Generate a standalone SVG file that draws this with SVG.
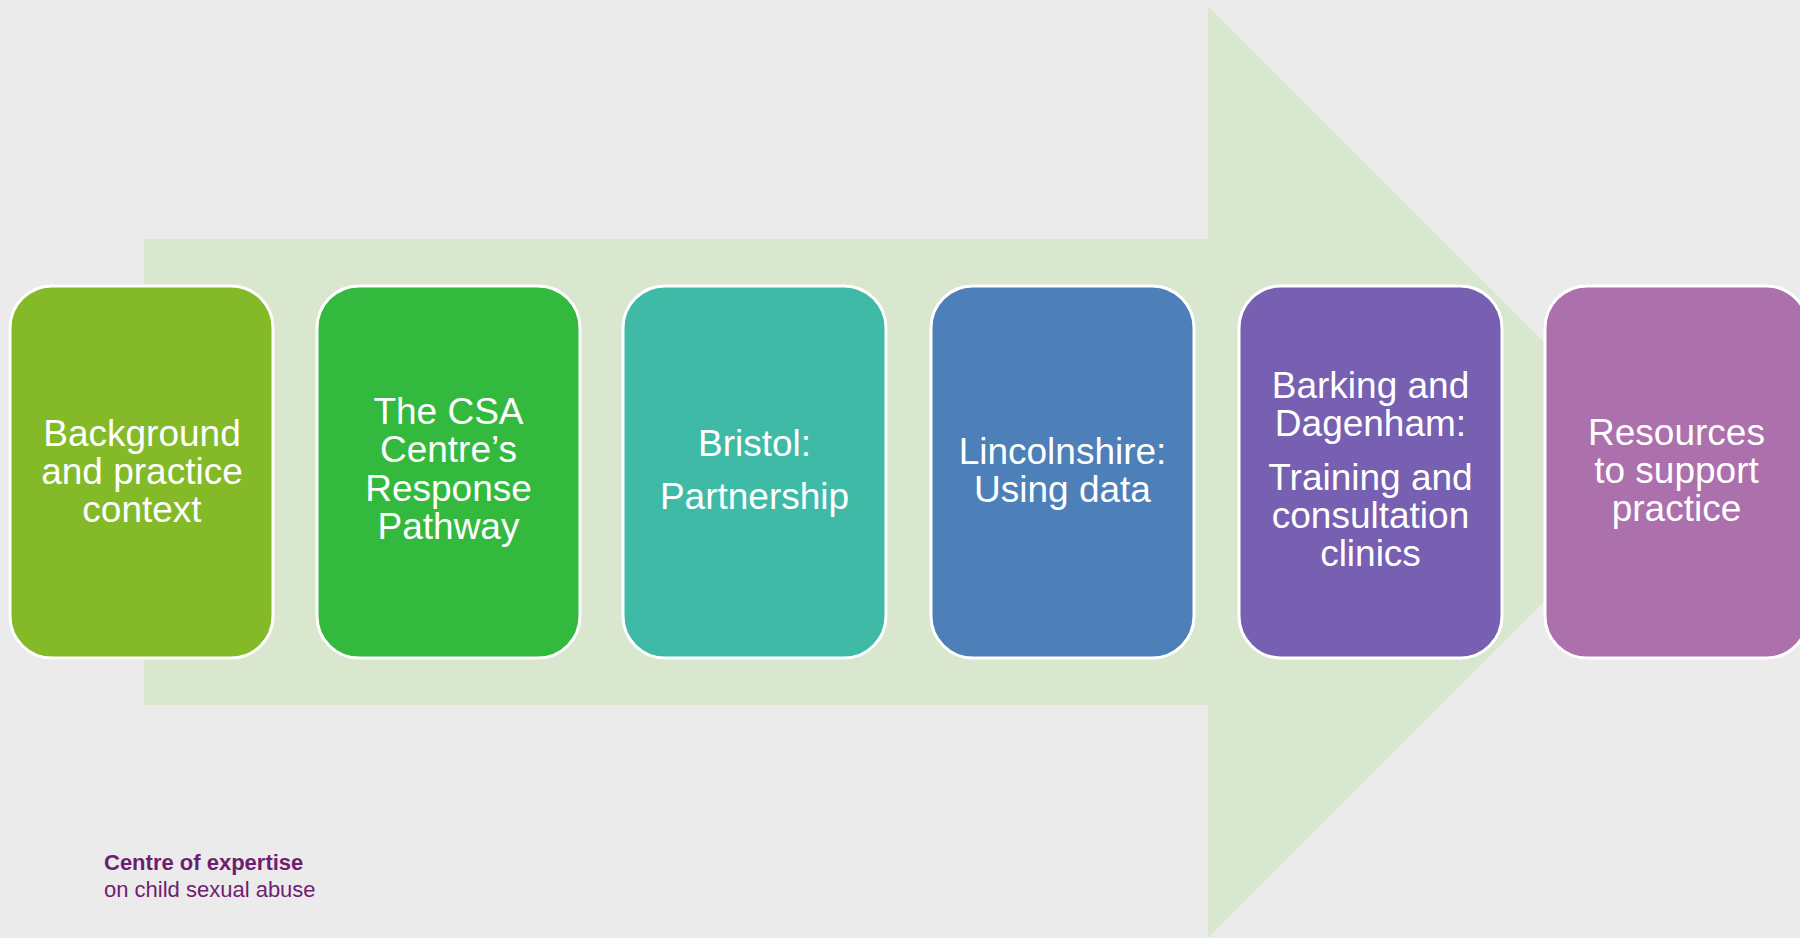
<svg xmlns="http://www.w3.org/2000/svg" width="1800" height="938" viewBox="0 0 1800 938">
<style>
.box{stroke:#ffffff;stroke-width:3}
.t{font-family:"Liberation Sans",Arial,sans-serif;font-size:37px;fill:#ffffff;text-anchor:middle}
.f{font-family:"Liberation Sans",Arial,sans-serif;font-size:22px;fill:#6f1d72}
</style>
<rect x="0" y="0" width="1800" height="938" fill="#ebebeb"/>
<polygon id="arrow" points="144,239 1208,239 1208,6 1674,472 1208,938 1208,705 144,705" fill="#dae7cf"/>
<g id="node1"><rect class="box" x="10" y="286" width="263" height="372" rx="42" fill="#84b928"/>
<text class="t"><tspan x="142" y="446">Background</tspan><tspan x="142" y="484">and practice</tspan><tspan x="142" y="522">context</tspan></text></g>
<g id="node2"><rect class="box" x="317" y="286" width="263" height="372" rx="42" fill="#34b93f"/>
<text class="t"><tspan x="448.5" y="424">The CSA</tspan><tspan x="448.5" y="462">Centre’s</tspan><tspan x="448.5" y="501">Response</tspan><tspan x="448.5" y="539">Pathway</tspan></text></g>
<g id="node3"><rect class="box" x="623" y="286" width="263" height="372" rx="42" fill="#3fbaa6"/>
<text class="t"><tspan x="754.5" y="456">Bristol:</tspan><tspan x="754.5" y="509">Partnership</tspan></text></g>
<g id="node4"><rect class="box" x="931" y="286" width="263" height="372" rx="42" fill="#4d7fb8"/>
<text class="t"><tspan x="1062.5" y="464">Lincolnshire:</tspan><tspan x="1062.5" y="502">Using data</tspan></text></g>
<g id="node5"><rect class="box" x="1239" y="286" width="263" height="372" rx="42" fill="#775fb1"/>
<text class="t"><tspan x="1370.5" y="398">Barking and</tspan><tspan x="1370.5" y="436">Dagenham:</tspan><tspan x="1370.5" y="490">Training and</tspan><tspan x="1370.5" y="528">consultation</tspan><tspan x="1370.5" y="566">clinics</tspan></text></g>
<g id="node6"><rect class="box" x="1545" y="286" width="263" height="372" rx="42" fill="#ac70ac"/>
<text class="t"><tspan x="1676.5" y="445">Resources</tspan><tspan x="1676.5" y="483">to support</tspan><tspan x="1676.5" y="521">practice</tspan></text></g>
<g id="connectors"></g>
<g id="footer"><text class="f" x="104" y="870" font-weight="bold">Centre of expertise</text>
<text class="f" x="104" y="897">on child sexual abuse</text></g>
</svg>
